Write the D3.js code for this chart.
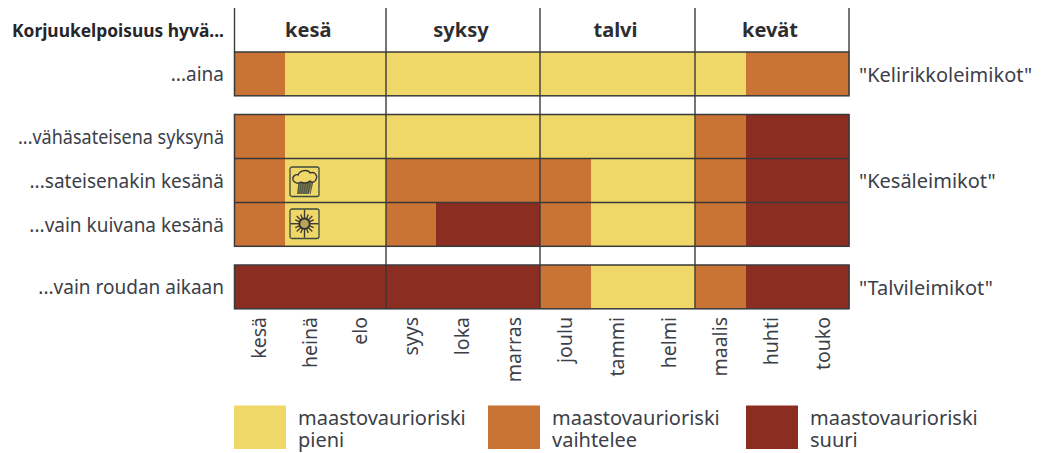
<!DOCTYPE html>
<html><head><meta charset="utf-8">
<script src="https://cdn.jsdelivr.net/npm/d3@7/dist/d3.min.js"></script>
<style>html,body{margin:0;padding:0;background:#fff}svg{display:block}text{font-family:"Noto Sans",sans-serif}</style>
</head><body><svg id="c" width="1041" height="453"></svg>
<script>
const months=["kesä","heinä","elo","syys","loka","marras","joulu","tammi","helmi","maalis","huhti","touko"];
const seasons=["kesä","syksy","talvi","kevät"];
const rowLabels=["...aina","...vähäsateisena syksynä","...sateisenakin kesänä","...vain kuivana kesänä","...vain roudan aikaan"];
const rowRisk0=[1,0,0,0,0,0,0,0,0,0,1,1];
const rowRisk1=[1,0,0,0,0,0,0,0,0,1,2,2];
const rowRisk2=[1,0,0,1,1,1,1,0,0,1,2,2];
const rowRisk3=[1,0,0,1,2,2,1,0,0,1,2,2];
const rowRisk4=[2,2,2,2,2,2,1,0,0,1,2,2];
const risks=[rowRisk0,rowRisk1,rowRisk2,rowRisk3,rowRisk4];
const rowTops=[52,114.5,158.5,202.5,265];
const groupNames=['"Kelirikkoleimikot"','"Kesäleimikot"','"Talvileimikot"'];
const groupRows=[0,2,4];
const legendLabels=[["maastovaurioriski","pieni"],["maastovaurioriski","vaihtelee"],["maastovaurioriski","suuri"]];
const riskColors=["#efd768","#c97335","#8b2d20"];
const ink="#3a3a3a",txt="#3c4048";

const svg=d3.select("#c");
const x=d3.scaleLinear().domain([0,1,3,4,6,7,9,10,12]).range([234.5,285,386,436,540,591,695,746,849]);
const rowH=43.8;
const sx=i=>x(i*3);

// cells
risks.forEach((r,ri)=>{
  svg.append("g").selectAll("rect").data(r).join("rect")
    .attr("x",(d,i)=>x(i)).attr("y",rowTops[ri]).attr("width",(d,i)=>x(i+1)-x(i)+.5).attr("height",rowH)
    .attr("fill",d=>riskColors[d]);
});
// row outlines
[[0,1],[1,4],[4,5]].forEach(([a,b])=>{
  svg.append("rect").attr("x",x(0)).attr("y",rowTops[a]).attr("width",x(12)-x(0))
    .attr("height",rowTops[b-1]+rowH-rowTops[a]).attr("fill","none").attr("stroke",ink).attr("stroke-width",1.5);
});
[2,3].forEach(i=>svg.append("line").attr("x1",x(0)).attr("x2",x(12)).attr("y1",rowTops[i]).attr("y2",rowTops[i]).attr("stroke",ink).attr("stroke-width",1.4));
// season separators
d3.range(5).forEach(i=>{
  const px=sx(i);
  svg.append("line").attr("x1",px).attr("x2",px).attr("y1",8).attr("y2",i==0||i==4?52:309).attr("stroke",ink).attr("stroke-width",1.4);
});
// season headers
svg.append("g").selectAll("text").data(seasons).join("text")
  .attr("x",(d,i)=>(sx(i)+sx(i+1))/2-2).attr("y",37).attr("text-anchor","middle")
  .attr("font-size",20).attr("font-weight",700).attr("fill","#2e2e30").text(d=>d);
svg.append("text").attr("x",224).attr("y",37).attr("text-anchor","end").attr("font-size",17.5).attr("font-weight",700)
  .attr("fill","#26262a").attr("textLength",212).attr("lengthAdjust","spacingAndGlyphs").text("Korjuukelpoisuus hyvä...");
// row labels
svg.append("g").selectAll("text").data(rowLabels).join("text")
  .attr("x",224).attr("y",(d,i)=>rowTops[i]+rowH/2+7.5).attr("text-anchor","end")
  .attr("font-size",19).attr("fill",txt)
  .each(function(d,i){ if(i==1) d3.select(this).attr("textLength",206).attr("lengthAdjust","spacingAndGlyphs"); })
  .text(d=>d);
// group names
svg.append("g").selectAll("text").data(groupNames).join("text")
  .attr("x",859).attr("y",(d,i)=>rowTops[groupRows[i]]+rowH/2+8).attr("font-size",20).attr("fill",txt).text(d=>d);
// month labels
svg.append("g").selectAll("text").data(months).join("text")
  .attr("transform",(d,i)=>`translate(${(x(i)+x(i+1))/2+6.5},317) rotate(-90)`)
  .attr("text-anchor","end").attr("font-size",19.5).attr("fill",txt).text(d=>d);
// legend
const lx=[234,488,746];
legendLabels.forEach((l,i)=>{
  svg.append("rect").attr("x",lx[i]).attr("y",405.5).attr("width",52).attr("height",43.5).attr("fill",riskColors[i]);
  l.forEach((t,j)=>svg.append("text").attr("x",lx[i]+64).attr("y",425+j*22).attr("font-size",20).attr("fill",txt).text(t));
});
// weather icons
function frame(y){return svg.append("g").attr("transform",`translate(290,${y})`);}
const rain=frame(167);
rain.append("rect").attr("width",29).attr("height",29.5).attr("rx",2).attr("fill","#efd768").attr("stroke","#3d4a3e").attr("stroke-width",1.3);
rain.append("path").attr("d","M8 15 L23 15 L19 27 L8 27Z").attr("fill","#7a7850");
d3.range(7).forEach(i=>rain.append("line").attr("x1",9+i*2.3).attr("x2",7.5+i*2.1).attr("y1",15).attr("y2",27).attr("stroke","#4a5040").attr("stroke-width",.9));
rain.append("path").attr("d","M3 13 C2 9 6 7 8 8 C10 3 18 2 20 6 C25 4 28 9 26 12 C26 15 22 16 20 14 C17 17 12 16 11 15 C8 17 4 16 3 13Z")
  .attr("fill","#efd768").attr("stroke","#333").attr("stroke-width",1.3);
const sun=frame(209);
sun.append("rect").attr("width",29).attr("height",29.5).attr("rx",2).attr("fill","#efd768").attr("stroke","#3d4a3e").attr("stroke-width",1.3);
d3.range(16).forEach(i=>{
  const a=i*Math.PI/8,r=i%4==0?14:(i%2==0?11:10);
  sun.append("line").attr("x1",14.5+Math.cos(a)*5).attr("y1",14.7+Math.sin(a)*5)
    .attr("x2",14.5+Math.cos(a)*r).attr("y2",14.7+Math.sin(a)*r).attr("stroke","#3b3b38").attr("stroke-width",1.4);
});
sun.append("circle").attr("cx",14.5).attr("cy",14.7).attr("r",5.2).attr("fill","#b8a458").attr("stroke","#2e2e2e").attr("stroke-width",1.8);
</script></body></html>
